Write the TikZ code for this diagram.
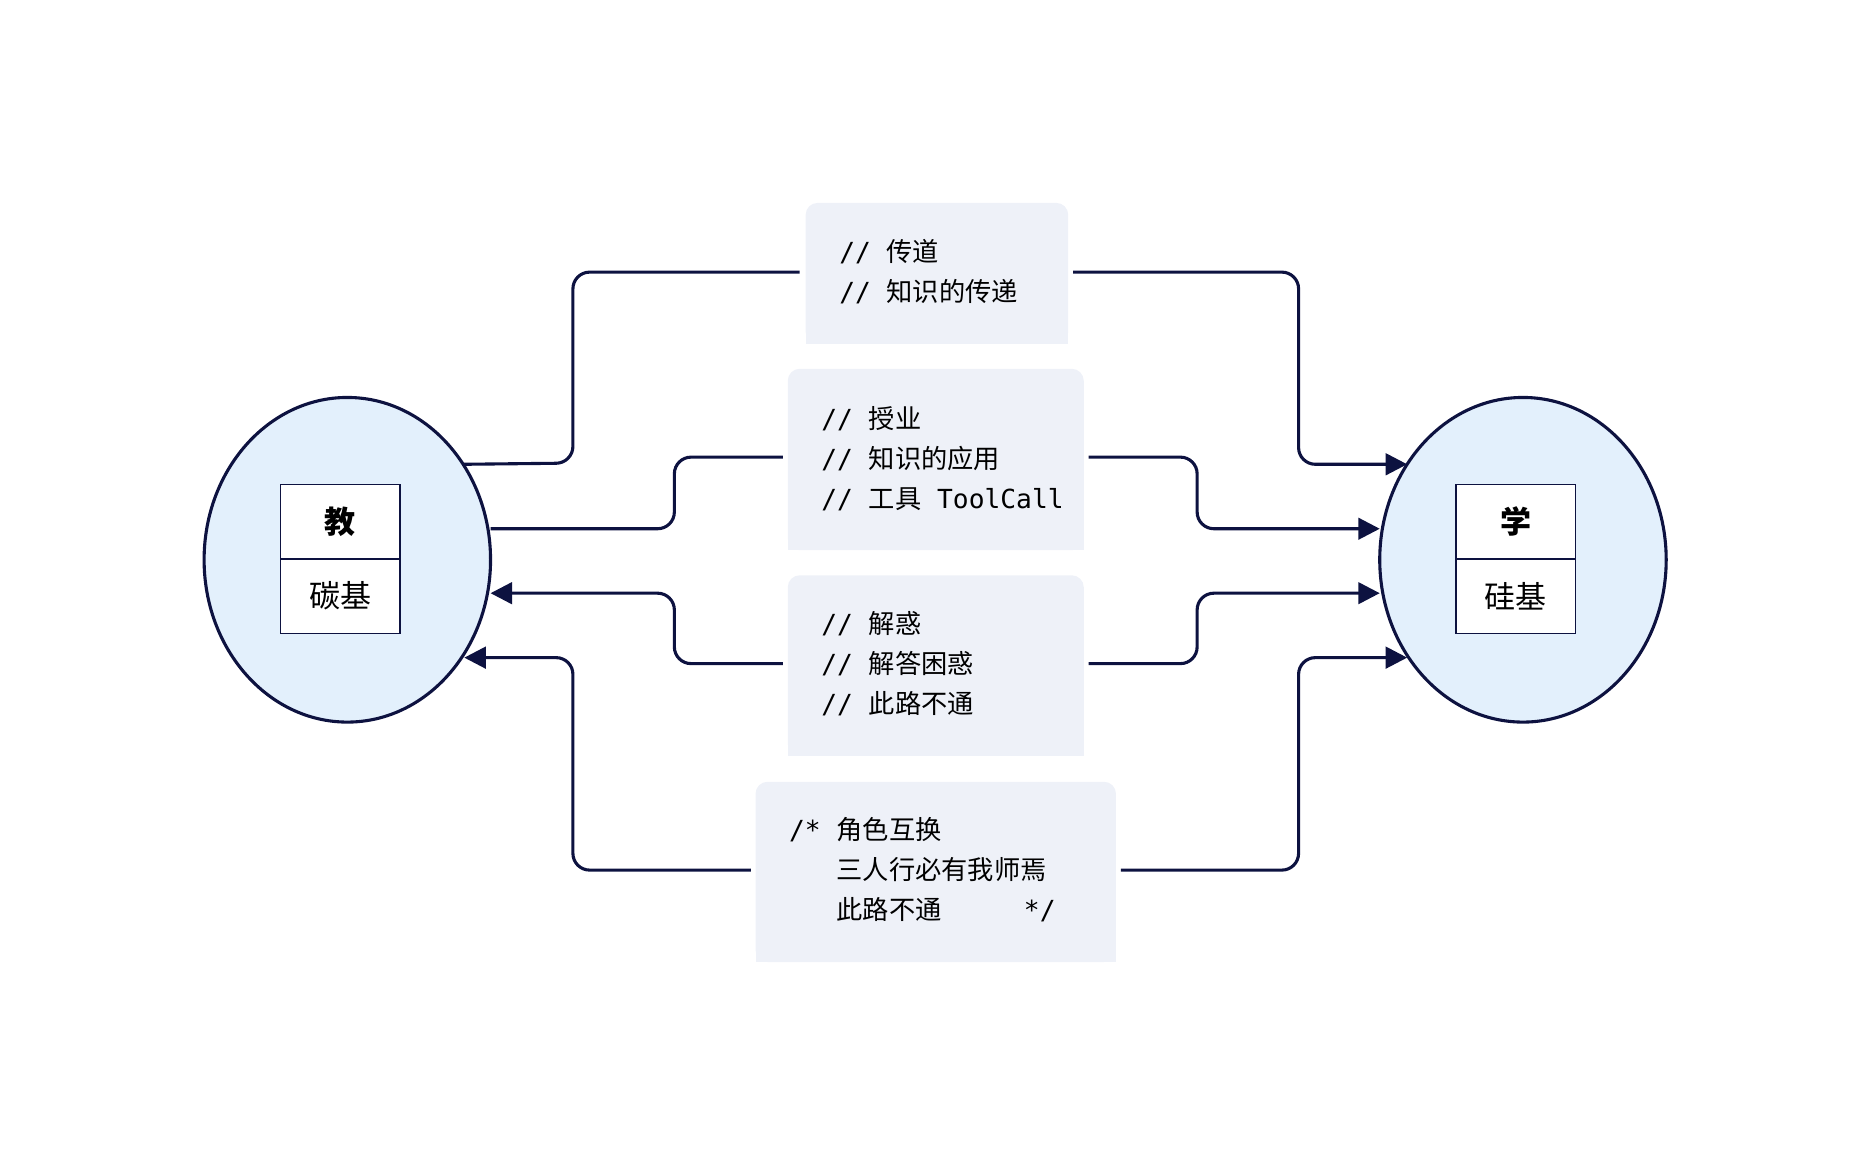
\documentclass[tikz,border=0pt]{standalone}
\usepackage{fontspec}
\setmonofont{DejaVu Sans Mono}
\newfontfamily\cjk{Noto Sans CJK SC}
\usetikzlibrary{arrows.meta,shapes.geometric}
\definecolor{ink}{HTML}{0D1240}
\definecolor{ellfill}{HTML}{E3F0FC}
\definecolor{boxfill}{HTML}{EEF1F8}
\tikzset{
  ell/.style={ellipse,draw=ink,line width=2.6pt,fill=ellfill,minimum width=240pt,minimum height=272pt},
  cell/.style={draw=ink,line width=1.2pt,fill=white,minimum width=100pt,minimum height=62.5pt,inner sep=0pt,font=\cjk\fontsize{26}{30}\selectfont},
  txt/.style={align=left,anchor=west,inner sep=0pt,font=\ttfamily\fontsize{22}{33.5}\selectfont},
  bg/.style={fill=boxfill,rounded corners=10pt},
  link/.style={draw=ink,line width=2.6pt,rounded corners=14pt},
  arr/.style={link,-{Triangle[length=18pt,width=18pt]}}
}
\newcommand{\bgbox}[4]{\fill[bg] (#1,#2) rectangle (#3,#4); \fill[boxfill] (#1,{(#2+#4)/2}) rectangle (#3,#4);}
\begin{document}
\begin{tikzpicture}[x=1pt,y=-1pt]
\useasboundingbox (0,0) rectangle (1550,965);
% box backgrounds
\bgbox{675}{170}{895}{288}
\bgbox{660}{309}{908}{461}
\bgbox{660}{482}{908}{633}
\bgbox{633}{655}{935}{806}
% ellipses
\node[ell] (L) at (291,469) {};
\node[ell] (R) at (1276,469) {};
\node[cell,font=\cjk\bfseries\fontsize{26}{30}\selectfont] (Lt) at (285,437) {教};
\node[cell] (Lb) at (285,499.5) {碳基};
\node[cell,font=\cjk\bfseries\fontsize{26}{30}\selectfont] (Rt) at (1270,437) {学};
\node[cell] (Rb) at (1270,499.5) {硅基};
% texts
\node[txt] (t1) at (703,228) {// {\cjk 传道}\\// {\cjk 知识的传递}};
\node[txt] (t2) at (688,384) {// {\cjk 授业}\\// {\cjk 知识的应用}\\// {\cjk 工具} ToolCall};
\node[txt] (t3) at (688,556) {// {\cjk 解惑}\\// {\cjk 解答困惑}\\// {\cjk 此路不通}};
\node[txt] (t4) at (661,729) {/* {\cjk 角色互换}\\\phantom{/* }{\cjk 三人行必有我师焉}\\\phantom{/* }{\cjk 此路不通}\hspace{69pt}*/};
% endpoints
\coordinate (b1w) at (670,228); \coordinate (b1e) at (899,228);
\coordinate (b2w) at (656,383); \coordinate (b2e) at (912,383);
\coordinate (b3w) at (656,556); \coordinate (b3e) at (912,556);
\coordinate (b4w) at (629,729); \coordinate (b4e) at (939,729);
\coordinate (l1) at (388,389); \coordinate (l2) at (411,443);
\coordinate (l3) at (411,497); \coordinate (l4) at (389,551);
\coordinate (r1) at (1179,389); \coordinate (r2) at (1156,443);
\coordinate (r3) at (1156,497); \coordinate (r4) at (1179,551);
% connectors
\draw[link] (b1w) -| (480,388) -- (l1);
\draw[arr] (b1e) -| (1088,389) -- (r1);
\draw[link] (b2w) -| (565,443) -- (l2);
\draw[arr] (b2e) -| (1003,443) -- (r2);
\draw[arr] (b3w) -| (565,497) -- (l3);
\draw[arr] (b3e) -| (1003,497) -- (r3);
\draw[arr] (b4w) -| (480,551) -- (l4);
\draw[arr] (b4e) -| (1088,551) -- (r4);
\end{tikzpicture}
\end{document}
